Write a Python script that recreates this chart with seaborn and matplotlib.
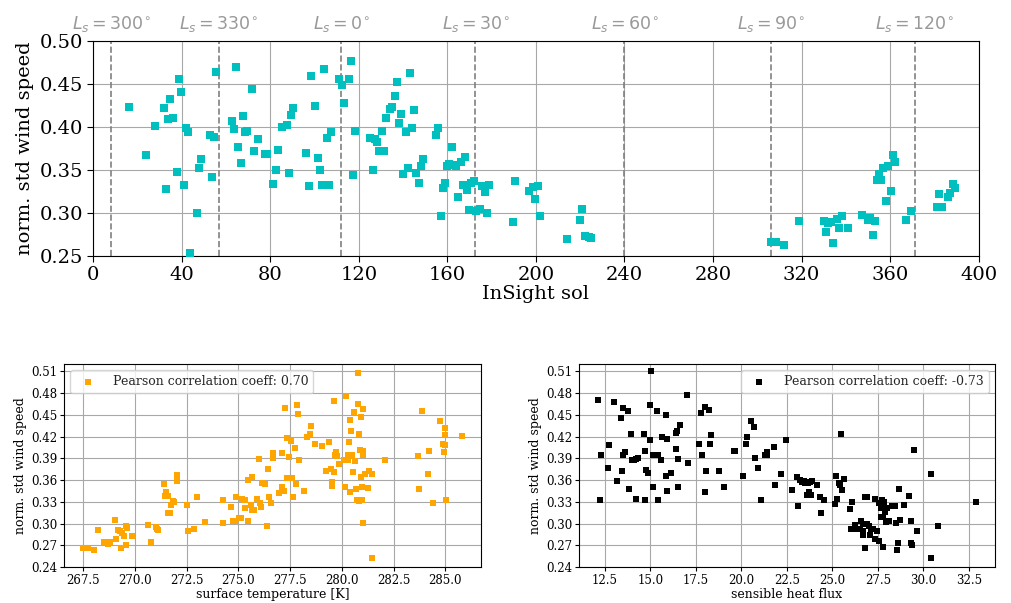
import numpy as np
import pandas as pd
import seaborn as sns
import matplotlib
matplotlib.use("Agg")
import matplotlib.pyplot as plt

# --- top panel: normalised std of wind speed per InSight sol ---
sol = [16.1, 24.0, 27.9, 31.9, 33.0, 33.9, 34.9, 36.0, 38.1, 38.8, 39.9, 40.9, 41.9, 42.8,
       43.7, 46.9, 47.8, 48.7, 52.7, 53.7, 54.8, 55.7, 62.7, 63.7, 64.6, 65.7, 66.7, 67.6,
       68.7, 69.7, 71.6, 72.7, 74.6, 77.6, 78.7, 81.5, 82.5, 83.6, 85.5, 87.5, 88.5, 89.4,
       90.4, 96.4, 97.5, 98.5, 100.4, 101.5, 102.4, 103.4, 104.5, 105.5, 106.4, 107.5,
       111.3, 112.4, 113.4, 115.4, 116.4, 117.5, 118.4, 125.2, 126.3, 127.3, 128.4, 129.3,
       130.3, 131.3, 132.2, 134.3, 135.2, 136.3, 137.2, 138.2, 139.1, 140.1, 141.2, 142.1,
       143.1, 144.2, 145.1, 146.1, 147.2, 148.1, 149.1, 155.1, 156.0, 157.0, 158.1, 159.1,
       160.0, 161.0, 162.0, 163.0, 163.9, 164.9, 166.0, 166.9, 167.9, 169.0, 169.9, 170.9,
       171.9, 172.8, 174.9, 175.8, 176.9, 177.9, 178.8, 189.7, 190.8, 196.8, 198.8, 199.8,
       200.9, 201.8, 213.9, 219.9, 221.0, 222.0, 224.0, 225.0, 306.3, 308.4, 312.0, 319.0,
       330.2, 331.1, 332.1, 333.1, 334.1, 336.1, 337.1, 338.2, 341.0, 347.2, 350.1, 351.1,
       352.2, 353.2, 354.1, 355.2, 356.1, 357.0, 358.2, 359.1, 360.2, 361.1, 362.1, 367.1,
       369.3, 381.2, 382.2, 383.3, 386.3, 387.2, 388.3, 389.3]
wind_std = [0.423, 0.367, 0.401, 0.422, 0.328, 0.409, 0.432, 0.410, 0.347, 0.455, 0.441, 0.332,
            0.399, 0.394, 0.253, 0.300, 0.352, 0.363, 0.390, 0.342, 0.388, 0.464, 0.407, 0.398,
            0.470, 0.376, 0.358, 0.412, 0.394, 0.395, 0.444, 0.372, 0.386, 0.369, 0.368, 0.334,
            0.350, 0.373, 0.400, 0.402, 0.346, 0.414, 0.422, 0.370, 0.331, 0.459, 0.424, 0.364,
            0.350, 0.333, 0.467, 0.387, 0.332, 0.394, 0.455, 0.448, 0.428, 0.455, 0.477, 0.344,
            0.395, 0.387, 0.350, 0.386, 0.382, 0.372, 0.395, 0.372, 0.410, 0.421, 0.423, 0.436,
            0.452, 0.405, 0.415, 0.345, 0.394, 0.352, 0.462, 0.399, 0.420, 0.346, 0.335, 0.354,
            0.363, 0.391, 0.399, 0.296, 0.329, 0.335, 0.355, 0.357, 0.376, 0.356, 0.355, 0.319,
            0.359, 0.332, 0.365, 0.327, 0.303, 0.335, 0.337, 0.302, 0.305, 0.331, 0.324, 0.300,
            0.332, 0.289, 0.337, 0.326, 0.330, 0.316, 0.331, 0.296, 0.270, 0.292, 0.305, 0.273,
            0.272, 0.271, 0.266, 0.266, 0.263, 0.291, 0.291, 0.278, 0.288, 0.290, 0.265, 0.293,
            0.283, 0.296, 0.283, 0.298, 0.292, 0.294, 0.274, 0.291, 0.338, 0.345, 0.338, 0.352,
            0.314, 0.355, 0.326, 0.367, 0.359, 0.292, 0.302, 0.307, 0.322, 0.307, 0.319, 0.323,
            0.334, 0.329]

# solar longitude markers
ls_sols = [8.2, 56.7, 112.1, 172.7, 240.0, 306.2, 371.2]
ls_labels = ["300", "330", "0", "30", "60", "90", "120"]

# --- bottom left: surface temperature ---
temp = [267.5, 267.76, 268.03, 268.2, 268.5, 268.7, 268.8, 269.06, 269.1, 269.2, 269.3, 269.35,
        269.4, 269.48, 269.56, 269.58, 269.64, 269.84, 270.64, 270.79, 271.04, 271.08, 271.14,
        271.42, 271.45, 271.53, 271.6, 271.58, 271.72, 271.75, 271.83, 271.88, 272.03, 272.03,
        272.54, 272.59, 272.87, 273.01, 273.37, 274.27, 274.28, 274.64, 274.72, 274.88, 274.86,
        275.04, 275.12, 275.19, 275.31, 275.31, 275.46, 275.49, 275.68, 275.59, 275.68, 275.75,
        275.9, 275.99, 276.06, 276.07, 276.15, 276.2, 276.3, 276.36, 276.43, 276.46, 276.6,
        276.67, 276.67, 276.94, 277.09, 277.12, 277.2, 277.26, 277.33, 277.35, 277.43, 277.52,
        277.59, 277.65, 277.72, 277.8, 277.81, 277.89, 277.93, 278.15, 278.31, 278.47, 278.51,
        278.68, 279.02, 279.21, 279.38, 279.47, 279.5, 279.54, 279.6, 279.63, 279.67, 279.72,
        279.75, 279.87, 280.08, 280.16, 280.2, 280.3, 280.3, 280.34, 280.39, 280.39, 280.44,
        280.47, 280.52, 280.58, 280.65, 280.68, 280.72, 280.76, 280.8, 280.83, 280.85, 280.87,
        280.9, 280.92, 280.95, 280.99, 281.0, 281.03, 281.03, 281.03, 281.1, 281.27, 281.3,
        281.44, 281.46, 282.08, 283.69, 283.71, 283.87, 284.18, 284.19, 284.42, 284.74, 284.87,
        284.95, 285.0, 285.0, 285.0, 285.03, 285.79]
wind_vs_temp = [0.266, 0.266, 0.264, 0.291, 0.274, 0.272, 0.274, 0.305, 0.279, 0.291, 0.290,
                0.266, 0.287, 0.283, 0.297, 0.271, 0.294, 0.283, 0.298, 0.275, 0.295, 0.292,
                0.291, 0.354, 0.338, 0.343, 0.338, 0.314, 0.315, 0.326, 0.331, 0.329, 0.367,
                0.359, 0.326, 0.290, 0.292, 0.337, 0.302, 0.301, 0.332, 0.323, 0.304, 0.337,
                0.303, 0.307, 0.308, 0.334, 0.333, 0.322, 0.303, 0.360, 0.364, 0.326, 0.319,
                0.319, 0.334, 0.389, 0.328, 0.323, 0.356, 0.356, 0.354, 0.296, 0.375, 0.336,
                0.328, 0.397, 0.390, 0.342, 0.351, 0.397, 0.345, 0.460, 0.418, 0.363, 0.392,
                0.414, 0.363, 0.336, 0.404, 0.354, 0.463, 0.451, 0.387, 0.345, 0.419, 0.423,
                0.435, 0.410, 0.407, 0.372, 0.412, 0.375, 0.357, 0.352, 0.371, 0.469, 0.394,
                0.398, 0.393, 0.382, 0.387, 0.351, 0.476, 0.388, 0.395, 0.413, 0.344, 0.443,
                0.427, 0.394, 0.371, 0.454, 0.386, 0.347, 0.332, 0.465, 0.508, 0.423, 0.331,
                0.401, 0.447, 0.364, 0.351, 0.332, 0.400, 0.458, 0.394, 0.301, 0.368, 0.349,
                0.372, 0.253, 0.368, 0.387, 0.393, 0.348, 0.455, 0.368, 0.400, 0.328, 0.441,
                0.409, 0.398, 0.432, 0.422, 0.408, 0.332, 0.421]

# --- bottom right: sensible heat flux ---
flux = [12.1, 12.23, 12.3, 12.74, 12.68, 13.01, 13.18, 13.36, 13.42, 13.47, 13.5, 13.6, 13.75,
        13.82, 13.91, 14.0, 14.09, 14.18, 14.18, 14.33, 14.64, 14.7, 14.71, 14.73, 14.88, 14.95,
        14.97, 15.03, 15.14, 15.16, 15.34, 15.39, 15.43, 15.6, 15.65, 15.83, 15.87, 15.9, 15.92,
        16.11, 16.4, 16.42, 16.47, 16.51, 16.51, 16.64, 17.0, 17.06, 17.68, 17.76, 17.85, 18.01,
        18.01, 18.07, 18.21, 18.27, 18.31, 18.78, 19.02, 19.61, 19.66, 20.08, 20.23, 20.28,
        20.54, 20.69, 20.74, 20.89, 21.07, 21.29, 21.38, 21.43, 21.78, 21.84, 22.15, 22.43,
        22.79, 23.03, 23.09, 23.23, 23.32, 23.42, 23.49, 23.62, 23.65, 23.71, 23.78, 23.82,
        23.86, 24.13, 24.33, 24.37, 24.55, 25.16, 25.21, 25.28, 25.34, 25.41, 25.5, 25.54,
        25.63, 25.96, 26.0, 26.09, 26.16, 26.27, 26.33, 26.46, 26.53, 26.6, 26.68, 26.69,
        26.69, 26.77, 26.82, 26.88, 26.9, 27.02, 27.06, 27.12, 27.24, 27.34, 27.37, 27.44,
        27.55, 27.57, 27.65, 27.68, 27.74, 27.77, 27.77, 27.85, 27.9, 27.92, 27.99, 28.12,
        28.25, 28.45, 28.47, 28.54, 28.58, 28.67, 28.71, 28.93, 29.2, 29.32, 29.33, 29.37,
        29.51, 29.64, 30.41, 30.43, 30.83, 32.9]
wind_vs_flux = [0.471, 0.333, 0.395, 0.408, 0.377, 0.467, 0.358, 0.445, 0.372, 0.394, 0.459,
                0.399, 0.455, 0.347, 0.423, 0.387, 0.387, 0.389, 0.334, 0.390, 0.424, 0.332,
                0.400, 0.374, 0.369, 0.464, 0.415, 0.510, 0.395, 0.351, 0.455, 0.332, 0.395,
                0.388, 0.420, 0.449, 0.365, 0.416, 0.345, 0.370, 0.403, 0.425, 0.428, 0.389,
                0.351, 0.436, 0.477, 0.383, 0.410, 0.453, 0.395, 0.461, 0.343, 0.372, 0.456,
                0.410, 0.422, 0.372, 0.351, 0.400, 0.400, 0.365, 0.409, 0.419, 0.442, 0.433,
                0.391, 0.377, 0.333, 0.394, 0.399, 0.394, 0.406, 0.353, 0.368, 0.415, 0.346,
                0.364, 0.324, 0.360, 0.357, 0.359, 0.356, 0.339, 0.356, 0.344, 0.357, 0.339,
                0.359, 0.353, 0.337, 0.315, 0.333, 0.327, 0.365, 0.334, 0.356, 0.353, 0.423,
                0.346, 0.361, 0.320, 0.293, 0.330, 0.293, 0.298, 0.292, 0.292, 0.292, 0.304,
                0.299, 0.284, 0.290, 0.266, 0.336, 0.336, 0.300, 0.297, 0.284, 0.292, 0.293,
                0.334, 0.279, 0.289, 0.328, 0.276, 0.321, 0.309, 0.332, 0.309, 0.267, 0.329,
                0.316, 0.302, 0.321, 0.304, 0.324, 0.324, 0.301, 0.264, 0.273, 0.348, 0.305,
                0.326, 0.338, 0.303, 0.273, 0.271, 0.401, 0.290, 0.368, 0.253, 0.297, 0.329]

sns.set_style("whitegrid", {"axes.edgecolor": "black", "grid.color": "#a8a8a8",
                            "xtick.bottom": True, "ytick.left": True})
plt.rcParams['font.family'] = ['DejaVu Serif']
plt.rcParams['mathtext.fontset'] = 'dejavusans'
plt.rcParams['xtick.color'] = 'black'
plt.rcParams['ytick.color'] = 'black'
plt.rcParams['axes.labelcolor'] = 'black'

fig = plt.figure(figsize=(10.11, 6.03), dpi=100)
ax_top = fig.add_axes([0.092, 0.5755, 0.876, 0.357])
ax_t = fig.add_axes([0.0633, 0.0597, 0.4125, 0.3366])
ax_h = fig.add_axes([0.5727, 0.0597, 0.4113, 0.3366])

# top panel
df_top = pd.DataFrame({"sol": sol, "wind": wind_std})
sns.scatterplot(data=df_top, x="sol", y="wind", marker="s", color="c",
                s=30, linewidth=0, ax=ax_top, zorder=3)
for x, lab in zip(ls_sols, ls_labels):
    ax_top.axvline(x, color="#808080", linestyle="--", linewidth=1.2, zorder=2)
    ax_top.text(x, 1.03, r"$L_s = %s^{\circ}$" % lab, transform=ax_top.get_xaxis_transform(),
                ha="center", va="bottom", color="#999999", fontsize=12.5,
                family="DejaVu Sans")
ax_top.set_xlim(0, 400)
ax_top.set_ylim(0.25, 0.50)
ax_top.set_xticks(np.arange(0, 401, 40))
ax_top.set_yticks([0.25, 0.30, 0.35, 0.40, 0.45, 0.50])
ax_top.set_xlabel("InSight sol", fontsize=14, labelpad=1)
ax_top.set_ylabel("norm. std wind speed", fontsize=14, labelpad=4)
ax_top.tick_params(labelsize=14, length=4, pad=3)

# bottom panels
df_t = pd.DataFrame({"temp": temp, "wind": wind_vs_temp})
sns.scatterplot(data=df_t, x="temp", y="wind", marker="s", color="orange", s=13,
                linewidth=0, ax=ax_t, zorder=3, label="Pearson correlation coeff: 0.70")
df_h = pd.DataFrame({"flux": flux, "wind": wind_vs_flux})
sns.scatterplot(data=df_h, x="flux", y="wind", marker="s", color="black", s=13,
                linewidth=0, ax=ax_h, zorder=3, label="Pearson correlation coeff: -0.73")

yt = [0.24, 0.27, 0.30, 0.33, 0.36, 0.39, 0.42, 0.45, 0.48, 0.51]
panels = [(ax_t, "surface temperature [K]", (266.58, 286.72), np.arange(267.5, 285.1, 2.5), "upper left"),
          (ax_h, "sensible heat flux", (11.07, 33.93), np.arange(12.5, 32.6, 2.5), "upper right")]
for ax, xlab, xlim, xt, loc in panels:
    ax.set_xlim(*xlim)
    ax.set_ylim(0.24, 0.52)
    ax.set_xticks(xt)
    ax.set_xticklabels(["%.1f" % v for v in xt])
    ax.set_yticks(yt)
    ax.set_yticklabels(["%.2f" % v for v in yt])
    ax.set_xlabel(xlab, fontsize=9, labelpad=1)
    ax.set_ylabel("norm. std wind speed", fontsize=9, labelpad=3)
    ax.tick_params(labelsize=8.5, length=3, pad=2)
    ax.legend(loc=loc, fontsize=9, markerscale=1.0, handletextpad=1.0,
              borderpad=0.4, framealpha=0.8)

fig.savefig("out.png", dpi=100)
